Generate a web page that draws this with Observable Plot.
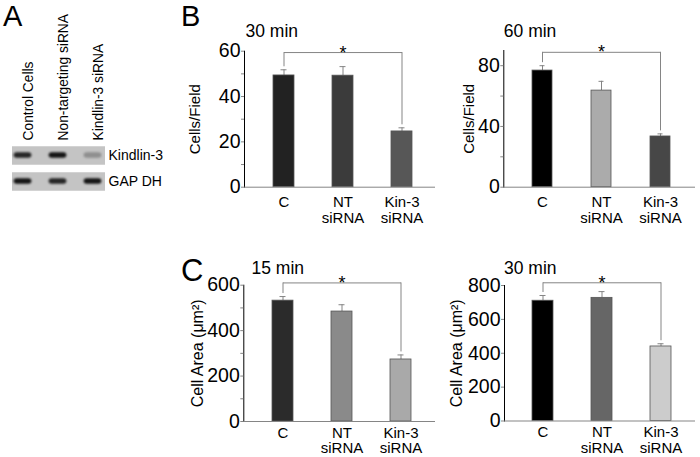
<!DOCTYPE html>
<html><head><meta charset="utf-8">
<script src="https://cdn.jsdelivr.net/npm/d3@7"></script>
<script src="https://cdn.jsdelivr.net/npm/@observablehq/plot@0.6"></script>
<style>
html,body{margin:0;padding:0;background:#fff;}
#fig{position:relative;width:700px;height:457px;overflow:hidden;font-family:"Liberation Sans",Arial,sans-serif;}
.panel-letter{position:absolute;line-height:1;color:#000;font-family:"Liberation Sans",Arial,sans-serif;}
</style></head><body><div id="fig"></div>
<script>
// ---------- data ----------
const categories = ["C", "NT\nsiRNA", "Kin-3\nsiRNA"];

const adhesion30 = [49.3, 49.2, 24.6];
const adhesion30Err = [2.5, 4.0, 1.6];
const adhesion60 = [76.8, 63.6, 33.4];
const adhesion60Err = [3.2, 6.1, 1.7];
const area15 = [532, 484, 273];
const area15Err = [18, 30, 20];
const area30 = [710, 727, 440];
const area30Err = [31, 37, 16];

const ticks30 = [0, 10, 20, 30, 40, 50, 60];
const labels30 = [0, 20, 40, 60];
const ticks60 = [0, 20, 40, 60, 80];
const labels60 = [0, 40, 80];
const ticksA15 = [0, 100, 200, 300, 400, 500, 600];
const labelsA15 = [0, 200, 400, 600];
const ticksA30 = [0, 200, 400, 600, 800];
const labelsA30 = [0, 200, 400, 600, 800];

const lanes = ["Control Cells", "Non-targeting siRNA", "Kindlin-3 siRNA"];
const proteins = ["Kindlin-3", "GAP DH"];
const kindlinIntensity = [0.9, 1.0, 0.3];
const gapdhIntensity = [1.0, 0.9, 1.0];

// ---------- layout ----------
const W = 700, H = 457;
const FONT = '"Liberation Sans", Arial, sans-serif';
const GRAY = "#858585";
const fig = document.getElementById("fig");

function baseStyle() {
  return {position: "absolute", left: "0px", top: "0px", background: "transparent", fontFamily: FONT, fontSize: "19px", color: "#000", overflow: "visible"};
}

function barChart(cfg) {
  const rows = categories.map((c, i) => ({cat: c, value: cfg.values[i], top: cfg.values[i] + cfg.errors[i], fill: cfg.colors[i]}));
  const step = (cfg.centers[2] - cfg.centers[0]) / 2;
  const pad = 1 - cfg.barWidth / step;
  const [y0Px, yTopPx] = cfg.yPx;
  const bracket = [{from: categories[0], mid: categories[1], to: categories[2], level: cfg.bracketLevel}];
  const ends = [
    {cat: categories[0], level: cfg.bracketLevel, top: rows[0].top},
    {cat: categories[2], level: cfg.bracketLevel, top: rows[2].top}
  ];
  const chart = Plot.plot({
    width: W, height: H,
    marginLeft: cfg.axisX, marginRight: W - cfg.axisEnd, marginTop: yTopPx, marginBottom: H - y0Px,
    style: baseStyle(),
    x: {domain: categories, range: [cfg.centers[0] - step / 2, cfg.centers[2] + step / 2], paddingInner: pad, paddingOuter: pad / 2, axis: null},
    y: {domain: cfg.yDomain, ticks: cfg.ticks, tickFormat: d => cfg.labeled.includes(d) ? String(d) : "", tickSize: 3, tickPadding: 1, line: true, label: null},
    color: {type: "identity"},
    marks: [
      Plot.ruleX(rows, {x: "cat", y1: "value", y2: "top", stroke: GRAY, strokeWidth: 1}),
      Plot.tickY(rows, {x: "cat", y: "top", stroke: GRAY, strokeWidth: 1, insetLeft: 7.5, insetRight: 7.5}),
      Plot.barY(rows, {x: "cat", y: "value", fill: "fill", stroke: "#555", strokeWidth: 0.8}),
      Plot.ruleY([0], {stroke: GRAY, strokeWidth: 1}),
      Plot.link(bracket, {x1: "from", x2: "to", y1: "level", y2: "level", stroke: GRAY, strokeWidth: 1}),
      Plot.ruleX(ends, {x: "cat", y1: "level", y2: "top", stroke: GRAY, strokeWidth: 1, insetBottom: 3}),
      Plot.text(bracket, {x: "mid", y: "level", text: () => "*", lineAnchor: "bottom", dy: 6, fontSize: 18, fill: "#000"}),
      Plot.text(rows, {x: "cat", text: "cat", frameAnchor: "bottom", lineAnchor: "top", dy: cfg.xLabelDy, fontSize: 15, lineHeight: cfg.xLabelLH, fill: "#000"}),
      Plot.text([cfg.title], {text: d => d, frameAnchor: "top-left", textAnchor: "start", lineAnchor: "bottom", dx: cfg.titleX - cfg.axisX, dy: cfg.titleBaseline - yTopPx, fontSize: 17.5, fill: "#000"}),
      Plot.text([cfg.yLabel], {text: d => d, frameAnchor: "left", rotate: -90, textAnchor: "middle", dx: cfg.yLabelX - cfg.axisX, fontSize: cfg.yLabelSize, fill: "#000"})
    ]
  });
  const s = d3.select(chart);
  s.selectAll('[aria-label^="y-axis"] text').attr("font-size", 19.5).attr("fill", "#000").style("font-family", FONT);
  s.selectAll('[aria-label^="y-axis"] path, [aria-label^="y-axis"] line').attr("stroke", GRAY);
  fig.appendChild(chart);
}

function blotChart() {
  const intens = [kindlinIntensity, gapdhIntensity];
  const cells = [];
  proteins.forEach((p, j) => lanes.forEach((l, i) => cells.push({lane: l, protein: p, intensity: intens[j][i]})));
  const chart = Plot.plot({
    width: W, height: H,
    marginLeft: 12, marginRight: W - 105, marginTop: 146, marginBottom: H - 190.5,
    style: baseStyle(),
    x: {domain: lanes, range: [3.5, 110.5], padding: 0, axis: null},
    y: {domain: proteins, paddingInner: 0.29, paddingOuter: 0, axis: null},
    opacity: {type: "identity"},
    marks: [
      Plot.ruleY(proteins, {y: d => d, stroke: "#c4c4c4", strokeWidth: 18.5}),
      Plot.cell(cells, {x: "lane", y: "protein", fill: "#141414", fillOpacity: "intensity", insetLeft: 8.6, insetRight: 8.6, insetTop: 6.2, insetBottom: 6.2, rx: 3}),
      Plot.text(lanes, {x: d => d, text: d => d, frameAnchor: "top", rotate: -90, textAnchor: "start", dy: -6, fontSize: 13.8, fill: "#000"}),
      Plot.text(proteins, {y: d => d, text: d => d, frameAnchor: "right", textAnchor: "start", dx: 3, fontSize: 14, fill: "#000"})
    ]
  });
  d3.select(chart).selectAll('g[aria-label="cell"]').style("filter", "blur(0.9px)");
  fig.appendChild(chart);
}

blotChart();

barChart({values: adhesion30, errors: adhesion30Err, colors: ["#222222", "#3b3b3b", "#575757"],
  axisX: 244, axisEnd: 435, yPx: [186.7, 50.7], yDomain: [0, 60], ticks: ticks30, labeled: labels30,
  centers: [283.3, 342.7, 402.7], barWidth: 21.3, bracketLevel: 59.4, xLabelDy: 8, xLabelLH: 1.08,
  title: "30 min", titleX: 245, titleBaseline: 36, yLabel: "Cells/Field", yLabelX: 195, yLabelSize: 15});

barChart({values: adhesion60, errors: adhesion60Err, colors: ["#000000", "#ababab", "#474747"],
  axisX: 503.3, axisEnd: 695, yPx: [186.7, 50], yDomain: [0, 90], ticks: ticks60, labeled: labels60,
  centers: [542, 601.7, 661.2], barWidth: 20.7, bracketLevel: 88.8, xLabelDy: 8, xLabelLH: 1.08,
  title: "60 min", titleX: 503.3, titleBaseline: 36, yLabel: "Cells/Field", yLabelX: 469, yLabelSize: 15});

barChart({values: area15, errors: area15Err, colors: ["#2b2b2b", "#8a8a8a", "#a9a9a9"],
  axisX: 243.3, axisEnd: 435, yPx: [421, 284.7], yDomain: [0, 600], ticks: ticksA15, labeled: labelsA15,
  centers: [281.7, 340.8, 400.5], barWidth: 21.3, bracketLevel: 610, xLabelDy: 5, xLabelLH: 1.04,
  title: "15 min", titleX: 251, titleBaseline: 273, yLabel: "Cell Area (μm²)", yLabelX: 197.5, yLabelSize: 16});

barChart({values: area30, errors: area30Err, colors: ["#000000", "#666666", "#cccccc"],
  axisX: 504, axisEnd: 695, yPx: [420.5, 285], yDomain: [0, 800], ticks: ticksA30, labeled: labelsA30,
  centers: [542.2, 602, 661.3], barWidth: 21, bracketLevel: 816, xLabelDy: 5, xLabelLH: 1.04,
  title: "30 min", titleX: 503.5, titleBaseline: 273, yLabel: "Cell Area (μm²)", yLabelX: 456, yLabelSize: 16});

// panel letters
[["A", 3, 2, 29], ["B", 181, 2, 29], ["C", 181, 255, 31]].forEach(([t, x, y, fs]) => {
  const el = document.createElement("div");
  el.className = "panel-letter";
  el.textContent = t;
  el.style.left = x + "px"; el.style.top = y + "px"; el.style.fontSize = fs + "px";
  fig.appendChild(el);
});
</script></body></html>
